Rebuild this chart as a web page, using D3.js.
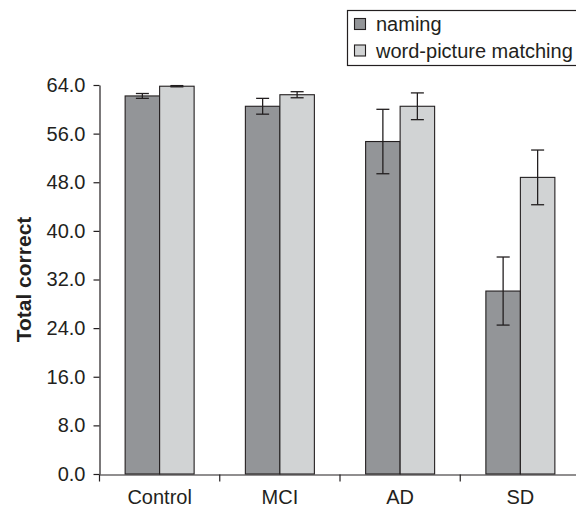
<!DOCTYPE html>
<html>
<head>
<meta charset="utf-8">
<script src="https://cdn.jsdelivr.net/npm/d3@7"></script>
<style>
  body { margin: 0; background: #fff; }
  text { font-family: "Liberation Sans", Arial, sans-serif; fill: #231f20; }
</style>
</head>
<body>
<div class="board"></div>
<script>
// values
var categories = ["Control", "MCI", "AD", "SD"];
var seriesNames = ["naming", "word-picture matching"];
var naming = [62.2, 60.5, 54.7, 30.1];
var namingErr = [0.4, 1.3, 5.3, 5.6];
var matching = [63.8, 62.4, 60.5, 48.8];
var matchingErr = [0.1, 0.5, 2.2, 4.5];
var yTicks = [0, 8, 16, 24, 32, 40, 48, 56, 64];

var boardInfo = {
  width: 576,
  height: 507
};

var colors = {
  "naming": "#939598",
  "word-picture matching": "#d1d3d4"
};

var svg = d3.select(".board").append("svg")
  .attr("width", boardInfo.width)
  .attr("height", boardInfo.height);

var y = d3.scaleLinear().domain([0, 64]).range([474, 85]);

var x0 = d3.scaleBand().domain(categories).range([99.5, 580.5]).padding(0);
var x1 = d3.scaleBand().domain(seriesNames).range([0, 69]).padding(0);
var groupOffset = (x0.bandwidth() - 69) / 2;

// rows: one per bar
var bars = [];
categories.forEach(function(c, i) {
  bars.push({cat: c, series: "naming", value: naming[i], err: namingErr[i]});
  bars.push({cat: c, series: "word-picture matching", value: matching[i], err: matchingErr[i]});
});

svg.selectAll("rect.bar").data(bars)
  .enter().append("rect")
  .attr("class", "bar")
  .attr("x", function(d) { return x0(d.cat) + groupOffset + x1(d.series); })
  .attr("y", function(d) { return y(d.value); })
  .attr("width", x1.bandwidth())
  .attr("height", function(d) { return y(0) - y(d.value); })
  .attr("fill", function(d) { return colors[d.series]; })
  .attr("stroke", "#231f20")
  .attr("stroke-width", 1.1);

// error bars
var errG = svg.selectAll("g.err").data(bars)
  .enter().append("g")
  .attr("class", "err")
  .attr("stroke", "#231f20")
  .attr("stroke-width", 1.3);

function cx(d) { return x0(d.cat) + groupOffset + x1(d.series) + x1.bandwidth() / 2; }

errG.append("line")
  .attr("x1", cx).attr("x2", cx)
  .attr("y1", function(d) { return y(d.value + d.err); })
  .attr("y2", function(d) { return y(d.value - d.err); });
errG.append("line")
  .attr("x1", function(d) { return cx(d) - 6.5; })
  .attr("x2", function(d) { return cx(d) + 6.5; })
  .attr("y1", function(d) { return y(d.value + d.err); })
  .attr("y2", function(d) { return y(d.value + d.err); });
errG.append("line")
  .attr("x1", function(d) { return cx(d) - 6.5; })
  .attr("x2", function(d) { return cx(d) + 6.5; })
  .attr("y1", function(d) { return y(d.value - d.err); })
  .attr("y2", function(d) { return y(d.value - d.err); });

// y axis
var yAxis = svg.append("g")
  .attr("transform", "translate(99.5,0)")
  .call(d3.axisLeft(y).tickValues(yTicks).tickFormat(d3.format(".1f")).tickSize(6).tickSizeOuter(0).tickPadding(8));
yAxis.selectAll("text").style("font-size", "20px").attr("font-family", null);
yAxis.selectAll("path, line").attr("stroke", "#231f20").attr("stroke-width", 1.2);

// x axis: labels at band centres, ticks at band edges
var xAxis = svg.append("g")
  .attr("transform", "translate(0,474.5)")
  .call(d3.axisBottom(x0).tickSize(0).tickSizeOuter(0));
xAxis.select("path").attr("stroke", "#231f20").attr("stroke-width", 1.2);
xAxis.selectAll("text")
  .style("font-size", "20px")
  .attr("font-family", null)
  .attr("y", 29)
  .attr("dy", null);

xAxis.selectAll("line.edge").data(categories)
  .enter().append("line")
  .attr("class", "edge")
  .attr("x1", function(d) { return x0(d); })
  .attr("x2", function(d) { return x0(d); })
  .attr("y1", 0).attr("y2", 7)
  .attr("stroke", "#231f20")
  .attr("stroke-width", 1.2);

// y label
svg.append("text")
  .attr("transform", "translate(31," + ((y(0) + y(64)) / 2) + ") rotate(-90)")
  .attr("text-anchor", "middle")
  .style("font-size", "21px")
  .style("font-weight", "bold")
  .text("Total correct");

// legend
var legend = svg.append("g");
legend.append("rect")
  .attr("x", 347.5).attr("y", 10.5)
  .attr("width", 240).attr("height", 55)
  .attr("fill", "#fff")
  .attr("stroke", "#231f20")
  .attr("stroke-width", 1.2);

var items = legend.selectAll("g.item").data(seriesNames)
  .enter().append("g")
  .attr("class", "item")
  .attr("transform", function(d, i) { return "translate(0," + (i * 26.5) + ")"; });
items.append("rect")
  .attr("x", 354.5).attr("y", 18.5)
  .attr("width", 11).attr("height", 11)
  .attr("fill", function(d) { return colors[d]; })
  .attr("stroke", "#231f20")
  .attr("stroke-width", 1.1);
items.append("text")
  .attr("x", 376).attr("y", 31)
  .style("font-size", "20px")
  .text(function(d) { return d; });
</script>
</body>
</html>
